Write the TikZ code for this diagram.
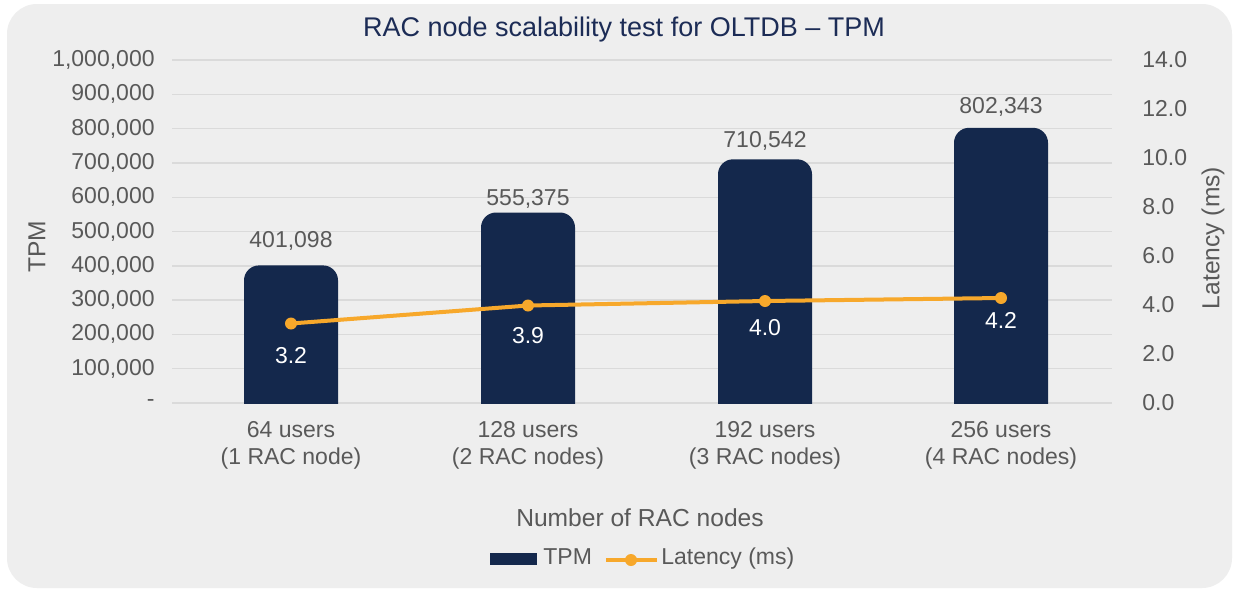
\documentclass[tikz,border=0pt]{standalone}
\usepackage{fontspec}
\setmainfont{Liberation Sans}
\definecolor{bgpanel}{HTML}{EEEEEE}
\definecolor{gridc}{HTML}{DADADA}
\definecolor{navy}{HTML}{14284C}
\definecolor{titlec}{HTML}{1C2C56}
\definecolor{orng}{HTML}{F7A82B}
\definecolor{txt}{HTML}{595959}
\tikzset{
  lbl/.style={font=\fontsize{11.5}{13.5}\selectfont, text=txt, inner sep=0pt},
  wlbl/.style={lbl, text=white},
  axtitle/.style={font=\fontsize{12.3}{14}\selectfont, text=txt, inner sep=0pt},
  gridline/.style={draw=gridc, line width=0.7pt},
  barfill/.style={fill=navy},
  latline/.style={draw=orng, line width=2pt},
  latdot/.style={fill=orng},
}
\begin{document}
\begin{tikzpicture}[x=0.5pt,y=-0.5pt]
\useasboundingbox (0,0) rectangle (1235,590);
\fill[white] (0,0) rectangle (1235,590);
\fill[bgpanel, rounded corners=15pt] (7,4) rectangle (1232,588);

% title
\node[font=\fontsize{13.5}{16}\selectfont, text=titlec, inner sep=0pt] (title) at (624,30) {RAC node scalability test for OLTDB – TPM};

% gridlines and tick labels
\foreach \i/\lab in {0/-,1/100{,}000,2/200{,}000,3/300{,}000,4/400{,}000,5/500{,}000,6/600{,}000,7/700{,}000,8/800{,}000,9/900{,}000,10/1{,}000{,}000}{
  \coordinate (gl\i) at (172,{403-34.3*\i});
  \coordinate (gr\i) at (1112,{403-34.3*\i});
  \draw[gridline] (gl\i) -- (gr\i);
  \node[lbl, anchor=east] (yl\i) at (155,{403-34.3*\i}) {\lab};
}
\foreach \i/\lab in {0/0.0,1/2.0,2/4.0,3/6.0,4/8.0,5/10.0,6/12.0,7/14.0}{
  \node[lbl, anchor=west] (yr\i) at (1142,{403-49*\i}) {\lab};
}

% axis titles
\node[axtitle, rotate=90] (ytitle) at (37,247) {TPM};
\node[axtitle, rotate=90] (y2title) at (1213,238) {Latency (ms)};
\node[axtitle] (xtitle) at (640,518) {Number of RAC nodes};

% bars
\begin{scope}
\clip (0,0) rectangle (1235,403);
\foreach \cx/\top in {291/265.4, 528/212.5, 765/159.3, 1001/127.8}{
  \fill[barfill, rounded corners=7.5pt] ({\cx-47},\top) rectangle ({\cx+47},440);
}
\end{scope}

% value labels above bars
\node[lbl] (v1) at (291,241) {401,098};
\node[lbl] (v2) at (528,199) {555,375};
\node[lbl] (v3) at (765,141) {710,542};
\node[lbl] (v4) at (1001,107) {802,343};

% category labels
\node[lbl, align=center] (c1) at (291,445.5) {64 users\\(1 RAC node)};
\node[lbl, align=center] (c2) at (528,445.5) {128 users\\(2 RAC nodes)};
\node[lbl, align=center] (c3) at (765,445.5) {192 users\\(3 RAC nodes)};
\node[lbl, align=center] (c4) at (1001,445.5) {256 users\\(4 RAC nodes)};

% latency line
\coordinate (p1) at (291,323.5);
\coordinate (p2) at (528,305.5);
\coordinate (p3) at (765,301);
\coordinate (p4) at (1001,298);
\draw[latline] (p1) -- (p2) -- (p3) -- (p4);
\foreach \p in {p1,p2,p3,p4}{\fill[latdot] (\p) circle[radius=3pt];}
\node[wlbl] (l1) at (291,356) {3.2};
\node[wlbl] (l2) at (528,336) {3.9};
\node[wlbl] (l3) at (765,328) {4.0};
\node[wlbl] (l4) at (1001,320) {4.2};

% legend
\fill[barfill] (490,553) rectangle (537,565);
\node[lbl, anchor=west] (legtpm) at (543,557) {TPM};
\coordinate (lla) at (606,560);
\coordinate (llb) at (657,560);
\draw[latline] (lla) -- (llb);
\fill[latdot] (631,560) circle[radius=3pt];
\node[lbl, anchor=west] (leglat) at (661,559) {Latency (ms)};
\end{tikzpicture}
\end{document}
